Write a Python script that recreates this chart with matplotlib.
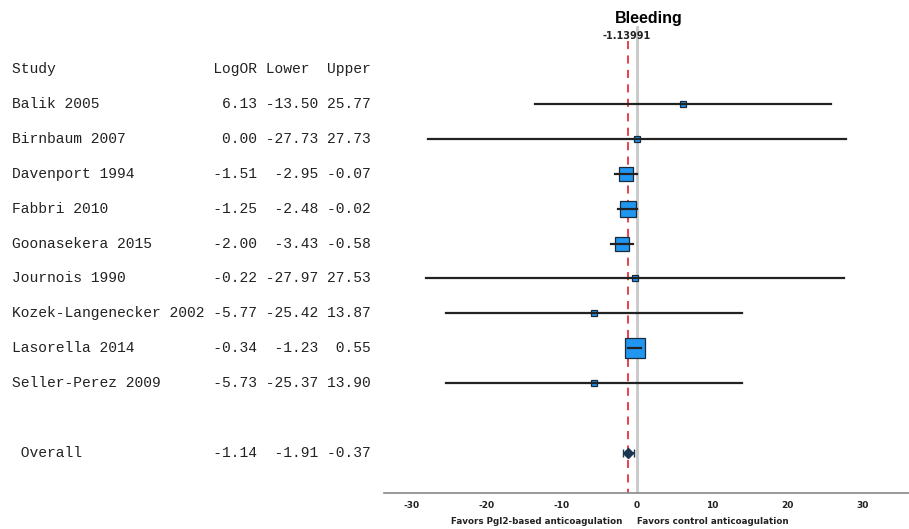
import numpy as np
import matplotlib.pyplot as plt
from matplotlib.transforms import blended_transform_factory

plt.rcParams['axes.unicode_minus'] = False

# Dados do forest plot
estudos = ['Balik 2005', 'Birnbaum 2007', 'Davenport 1994', 'Fabbri 2010',
           'Goonasekera 2015', 'Journois 1990', 'Kozek-Langenecker 2002',
           'Lasorella 2014', 'Seller-Perez 2009']
logor = [6.13, 0.00, -1.51, -1.25, -2.00, -0.22, -5.77, -0.34, -5.73]
lower = [-13.50, -27.73, -2.95, -2.48, -3.43, -27.97, -25.42, -1.23, -25.37]
upper = [25.77, 27.73, -0.07, -0.02, -0.58, 27.53, 13.87, 0.55, 13.90]
pesos = [1.2, 0.9, 5.0, 6.5, 5.5, 0.9, 1.2, 10.0, 1.2]  # estimado pelo tamanho das caixas

overall = -1.14
overall_lower = -1.91
overall_upper = -0.37
overall_exato = -1.13991

W, H = 909, 529
fig = plt.figure(figsize=(W / 100, H / 100), dpi=100)
ax = fig.add_axes([384 / W, 36 / H, 1 - 384 / W, 1 - 36 / H])

linhas = np.arange(1, len(estudos) + 1)
y_overall = 11

# Linhas verticais
ax.plot([0, 0], [-1.2, 12.2], color='#c8c8c8', lw=2, zorder=1)
ax.plot([overall, overall], [-0.8, 12.2], color='#e8323a', lw=1.3,
        ls=(0, (4.5, 3.5)), zorder=2)

# Estudos
for y, m, lo, up, w in zip(linhas, logor, lower, upper, pesos):
    ms = 6.3 * np.sqrt(w) * 0.72
    ax.plot(m, y, marker='s', ms=ms, mfc='#2196f0', mec='#1a2a3a', mew=0.9,
            ls='none', zorder=3)
    ax.plot([lo, up], [y, y], color='#222222', lw=1.6, zorder=4)

# Overall
ax.errorbar(overall, y_overall, xerr=[[overall - overall_lower], [overall_upper - overall]],
            fmt='D', color='#1c3550', ms=5, capsize=3, lw=1.4, zorder=4)

ax.set_xlim(-33.6, 36.1)
ax.set_ylim(12.15, -1.98)
ax.set_xticks([-30, -20, -10, 0, 10, 20, 30])
ax.tick_params(axis='x', length=0, pad=6, labelsize=6.5, colors='#222222')
for lbl in ax.get_xticklabels():
    lbl.set_fontweight('bold')
ax.set_yticks([])
for s in ['top', 'right', 'left']:
    ax.spines[s].set_visible(False)
ax.spines['bottom'].set_color('#888888')
ax.spines['bottom'].set_linewidth(1.2)

# Rótulos do eixo x
tr_x = blended_transform_factory(ax.transData, fig.transFigure)
ax.text(-1.9, 8 / H, 'Favors Pgl2-based anticoagulation', transform=tr_x,
        ha='right', va='center', fontsize=6.3, fontweight='bold', color='#222222')
ax.text(0, 8 / H, 'Favors control anticoagulation', transform=tr_x,
        ha='left', va='center', fontsize=6.3, fontweight='bold', color='#222222')

# Título
ax.text(1.5, -1.46, 'Bleeding', ha='center', va='center', fontsize=11.5,
        fontweight='bold', family='Liberation Sans')
ax.text(-1.4, -0.95, f'{overall_exato:.5f}', ha='center', va='center', fontsize=7,
        fontweight='bold', color='#222222')

# Tabela à esquerda (texto monoespaçado)
tr = blended_transform_factory(fig.transFigure, ax.transData)
fonte = dict(family='Liberation Mono', fontsize=10.5, va='center', ha='left',
             transform=tr, color='#222222')
ax.text(12 / W, 0, f"{'Study':<22} LogOR Lower  Upper", **fonte)
for y, nome, m, lo, up in zip(linhas, estudos, logor, lower, upper):
    ax.text(12 / W, y, f"{nome:<22} {m:5.2f} {lo:6.2f} {up:5.2f}", **fonte)
ax.text(12 / W, y_overall,
        f"{' Overall':<22} {overall:5.2f} {overall_lower:6.2f} {overall_upper:5.2f}", **fonte)

fig.savefig('out.png', dpi=100)
